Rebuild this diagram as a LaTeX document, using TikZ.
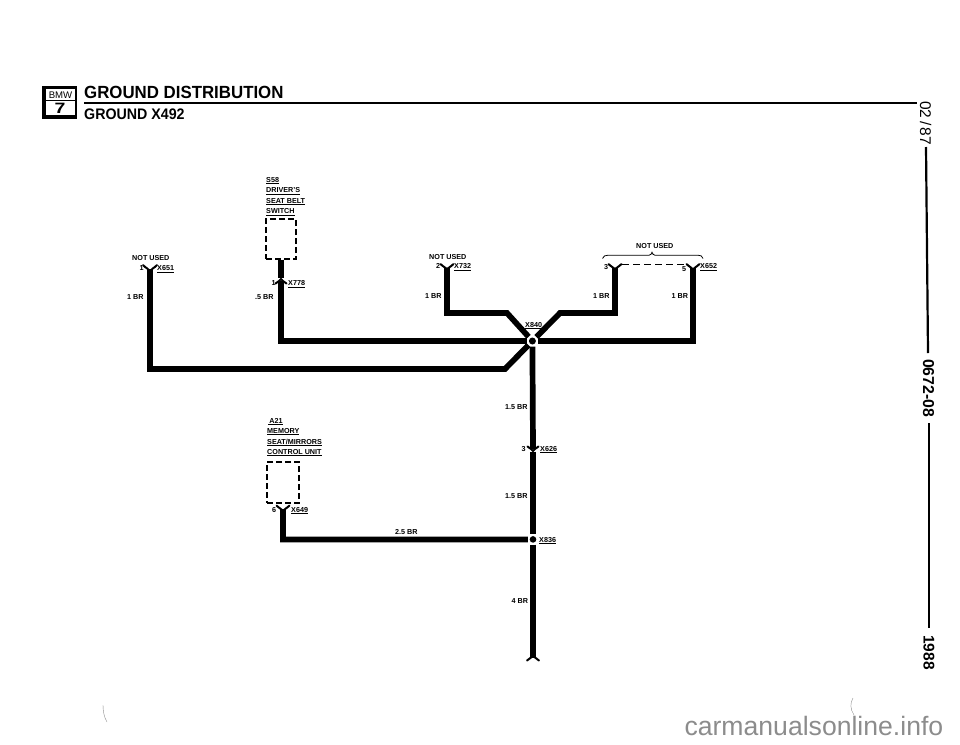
\documentclass[tikz,border=0pt]{standalone}
\usepackage{fontspec}
\setmainfont{Liberation Sans}
\usetikzlibrary{calc}
\tikzset{
  x=1pt,y=-1pt,
  wire/.style={line width=5.7pt,line cap=butt,line join=miter},
  lab/.style={inner sep=0pt,font=\fontsize{7.2}{8}\selectfont\bfseries,anchor=base west},
  ttl/.style={inner sep=0pt,anchor=base west},
  side/.style={inner sep=0pt,rotate=-90,anchor=base west},
  conn/.style={line width=2pt,line cap=round},
  modbox/.style={draw,line width=1.3pt,dash pattern=on 6pt off 3pt},
  hubnode/.style={circle,inner sep=0pt,minimum size=#1},
  ruleline/.style={line width=2.2pt},
  margin/.style={line width=2.2pt},
  speck/.style={line width=.4pt,draw=black!45},
}
\newcommand{\fork}[3]{\draw[conn] ($(#1)+(-#2,-#3)$) .. controls ($(#1)+(-#2*0.6,-#3*0.2)$) and ($(#1)+(-1,0)$) .. ($(#1)+(0,2)$) .. controls ($(#1)+(1,0)$) and ($(#1)+(#2*0.6,-#3*0.2)$) .. ($(#1)+(#2,-#3)$);}
\newcommand{\forkup}[3]{\draw[conn] ($(#1)+(-#2,#3)$) .. controls ($(#1)+(-#2*0.6,#3*0.2)$) and ($(#1)+(-1,0)$) .. ($(#1)+(0,-2)$) .. controls ($(#1)+(1,0)$) and ($(#1)+(#2*0.6,#3*0.2)$) .. ($(#1)+(#2,#3)$);}
\begin{document}
\begin{tikzpicture}
\useasboundingbox (0,0) rectangle (960,744);
% header
\node[fill=black,minimum width=35.5pt,minimum height=33.5pt,inner sep=0pt] (logo) at (59.7,102.5) {};
\node[fill=white,minimum width=29pt,minimum height=26pt,inner sep=0pt] (logoin) at (60.5,102) {};
\coordinate (lga) at (46,100.5);
\coordinate (lgb) at (75,100.5);
\draw[line width=1pt] (lga) -- (lgb);
\node[inner sep=0pt,font=\fontsize{9.6}{10}\selectfont] (bmw) at (60.5,95) {BMW};
\node[inner sep=0pt,font=\fontsize{15}{15}\selectfont\bfseries] (seven) at (60,108) {\scalebox{1.3}[1]{7}};
\node[ttl,font=\fontsize{17.6}{18}\selectfont\bfseries] (t1) at (84,98) {\scalebox{0.957}[1]{GROUND DISTRIBUTION}};
\node[ttl,font=\fontsize{15.3}{16}\selectfont\bfseries] (t2) at (84,119) {\scalebox{0.93}[1]{GROUND X492}};
\coordinate (ra) at (84,103);
\coordinate (rb) at (917,103);
\draw[ruleline] (ra) -- (rb);
% side margin
\node[side,font=\fontsize{15.5}{16}\selectfont] (s1) at (920,101) {02\,/\,87};
\node[side,font=\fontsize{15.8}{16}\selectfont\bfseries] (s2) at (923,359) {0672-08};
\node[side,font=\fontsize{15.5}{16}\selectfont\bfseries] (s3) at (923.5,635) {1988};
\coordinate (l1a) at (926,147);
\coordinate (l1b) at (928,353);
\coordinate (l2a) at (929,423);
\coordinate (l2b) at (929,628);
\draw[margin] (l1a) -- (l1b);
\draw[margin] (l2a) -- (l2b);
% hubs
\node[hubnode=11pt] (hub) at (532.4,341) {};
\fill (hub) circle (3.5);
\node[hubnode=10pt] (hubb) at (533,539.4) {};
\fill (hubb) circle (3.3);
% module boxes
\node[modbox,minimum width=30pt,minimum height=40pt,inner sep=0pt] (s58) at (281,239) {};
\node[modbox,minimum width=32pt,minimum height=41pt,inner sep=0pt] (a21) at (283,482.5) {};
% connector positions
\coordinate (x651) at (150,269);
\coordinate (x778) at (281,281);
\coordinate (x778u) at (281,278);
\coordinate (x732) at (447,267.5);
\coordinate (x652a) at (615,267.5);
\coordinate (x652b) at (693,267.5);
\coordinate (x626) at (533,449);
\coordinate (x626b) at (533,451.5);
\coordinate (x649) at (283,509);
\coordinate (bot) at (533,657.5);
% wires
\draw[wire] (x651) -- (150,369) -- (505,369) -- (hub);
\draw[wire] (s58.south) -- (x778u);
\draw[wire] (x778) -- (281,341) -- (hub);
\draw[wire] (x732) -- (447,313) -- (507,313) -- (hub);
\draw[wire] (x652a) -- (615,313) -- (560,313) -- (hub);
\draw[wire] (x652b) -- (693,341) -- (hub);
\draw[wire] (hub) -- (x626);
\draw[wire] (x626b) -- (hubb);
\draw[wire] (hubb) -- (bot);
\draw[wire] (x649) -- (283,539.5) -- (hubb);
\fork{x651}{7}{4}
\fork{x732}{6.5}{3.5}
\fork{x652a}{6.5}{3.5}
\fork{x652b}{6.5}{3.5}
\fork{x649}{6.5}{3.5}
\fork{x626}{5.5}{2.5}
\forkup{x778}{5.5}{2.5}
\forkup{bot}{6}{3}
% dashed link and brace
\coordinate (da) at ($(x652a)+(7,-3)$);
\coordinate (db) at ($(x652b)+(-9,-3)$);
\draw[line width=.9pt,dash pattern=on 7pt off 4pt] (da) -- (db);
\coordinate (ba) at (602.5,258.5);
\coordinate (bb) at (703,258.5);
\draw[line width=.8pt] (ba) .. controls (603.5,256) and (605,255.2) .. (608,255.2) -- (649,255.2) .. controls (650.5,255.2) and (651.5,254) .. (652,252.2) .. controls (652.5,254) and (653.5,255.2) .. (655,255.2) -- (698,255.2) .. controls (701,255.2) and (702,256) .. (bb);
% labels
\node[lab] (n1) at (132,260) {NOT USED};
\node[lab] (n2) at (139.5,270.5) {1};
\node[lab] (n3) at (157,270.5) {\underline{X651}};
\node[lab] (n4) at (127,299) {1 BR};
\node[lab] (n5) at (266,182) {\underline{S58}};
\node[lab] (n6) at (266,192.5) {\underline{DRIVER'S}};
\node[lab] (n7) at (266,203) {\underline{SEAT BELT}};
\node[lab] (n8) at (266,213.5) {\underline{SWITCH}};
\node[lab] (n9) at (271.5,285.5) {1};
\node[lab] (n10) at (288,285.5) {\underline{X778}};
\node[lab] (n11) at (255,299) {.5 BR};
\node[lab] (n12) at (429,259) {NOT USED};
\node[lab] (n13) at (436,268.5) {2};
\node[lab] (n14) at (454,268.5) {\underline{X732}};
\node[lab] (n15) at (425,298.5) {1 BR};
\node[lab] (n16) at (636,248.5) {NOT USED};
\node[lab] (n17) at (604,269.5) {3};
\node[lab] (n18) at (682,271) {5};
\node[lab] (n19) at (700,268.5) {\underline{X652}};
\node[lab] (n20) at (593,298.5) {1 BR};
\node[lab] (n21) at (671.5,298.5) {1 BR};
\node[lab] (n22) at (525,327) {\underline{X840}};
\node[lab] (n23) at (505,409) {1.5 BR};
\node[lab] (n24) at (521.5,451) {3};
\node[lab] (n25) at (540,451) {\underline{X626}};
\node[lab] (n26) at (505,498) {1.5 BR};
\node[lab] (n27) at (539,542) {\underline{X836}};
\node[lab] (n28) at (511.5,603) {4 BR};
\node[lab] (n29) at (395,534) {2.5 BR};
\node[lab] (n30) at (268,423) {\underline{\,A21}};
\node[lab] (n31) at (267,433) {\underline{MEMORY}};
\node[lab] (n32) at (267,444) {\underline{SEAT/MIRRORS}};
\node[lab] (n33) at (267,454) {\underline{CONTROL UNIT}};
\node[lab] (n34) at (272,512) {6};
\node[lab] (n35) at (291,512) {\underline{X649}};
% scan marks
\draw[speck] (853,698) .. controls (850,703) and (850,709) .. (854,715);
\draw[speck] (103,705) .. controls (103,711) and (104,717) .. (107,722);
% footer
\node[inner sep=0pt,anchor=base east,text=black!45,font=\fontsize{26.6}{27}\selectfont] (wm) at (943.5,735) {carmanualsonline.info};
\end{tikzpicture}
\end{document}
